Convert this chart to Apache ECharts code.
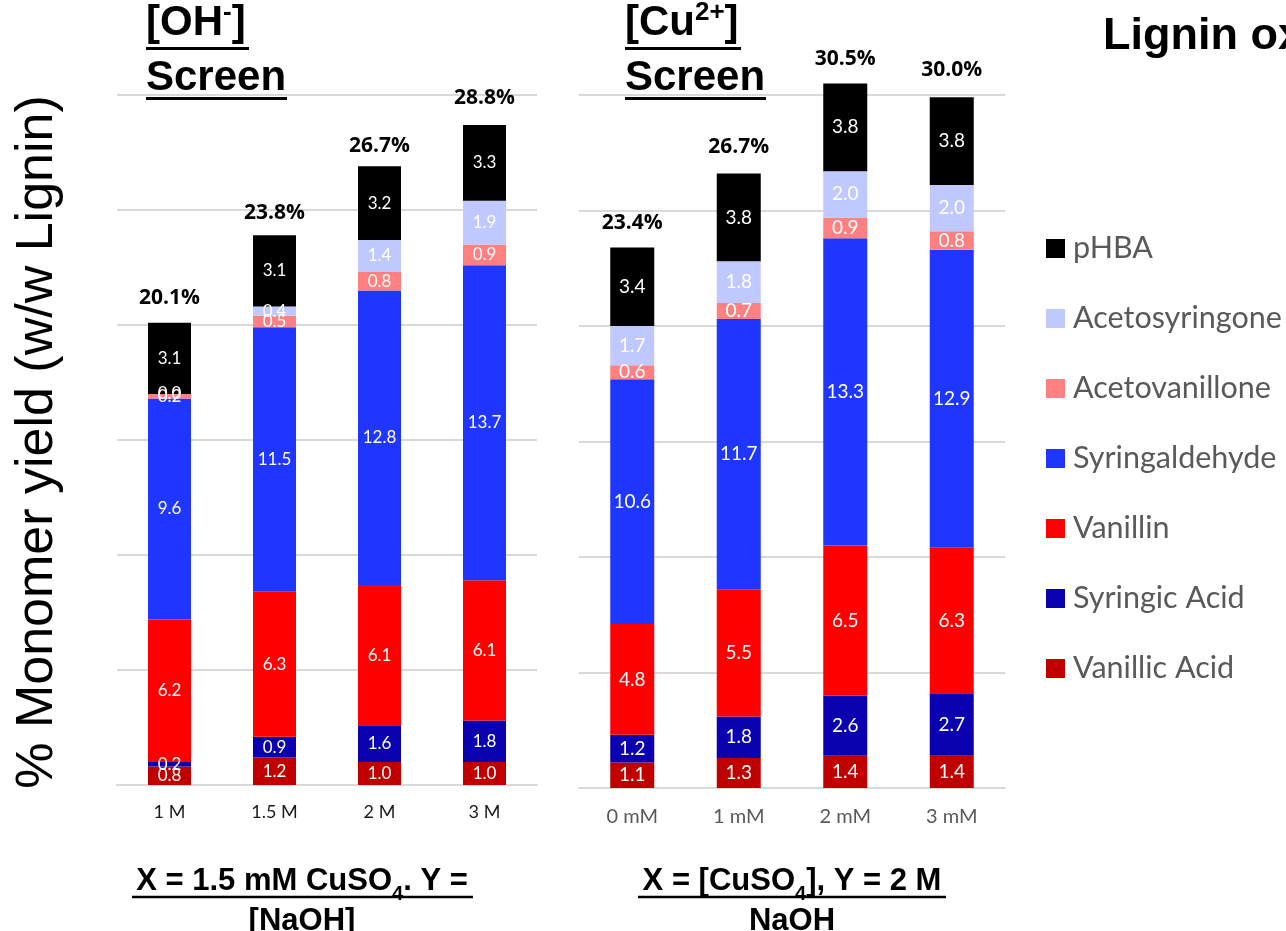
<!DOCTYPE html>
<html>
<head>
<meta charset="utf-8">
<title>Lignin oxidation monomer yields</title>
<script src="https://cdn.jsdelivr.net/npm/echarts@6/dist/echarts.min.js"></script>
<style>
  html, body { margin: 0; padding: 0; background: #ffffff; }
  #chart { width: 1286px; height: 931px; }
</style>
</head>
<body>
<div id="chart"></div>
<script>
// Categories for the two screens
const ohCategories = ['1 M', '1.5 M', '2 M', '3 M'];
const cuCategories = ['0 mM', '1 mM', '2 mM', '3 mM'];

// Legend order (top to bottom)
const compoundNames = ['pHBA', 'Acetosyringone', 'Acetovanillone', 'Syringaldehyde', 'Vanillin', 'Syringic Acid', 'Vanillic Acid'];

// [OH-] screen, % monomer yield (w/w lignin)
const ohVanillicAcid   = [0.8, 1.2, 1.0, 1.0];
const ohSyringicAcid   = [0.2, 0.9, 1.6, 1.8];
const ohVanillin       = [6.2, 6.3, 6.1, 6.1];
const ohSyringaldehyde = [9.6, 11.5, 12.8, 13.7];
const ohAcetovanillone = [0.2, 0.5, 0.8, 0.9];
const ohAcetosyringone = [0.0, 0.4, 1.4, 1.9];
const ohPHBA           = [3.1, 3.1, 3.2, 3.3];
const ohTotals         = [20.1, 23.8, 26.7, 28.8];

// [Cu2+] screen, % monomer yield (w/w lignin)
const cuVanillicAcid   = [1.1, 1.3, 1.4, 1.4];
const cuSyringicAcid   = [1.2, 1.8, 2.6, 2.7];
const cuVanillin       = [4.8, 5.5, 6.5, 6.3];
const cuSyringaldehyde = [10.6, 11.7, 13.3, 12.9];
const cuAcetovanillone = [0.6, 0.7, 0.9, 0.8];
const cuAcetosyringone = [1.7, 1.8, 2.0, 2.0];
const cuPHBA           = [3.4, 3.8, 3.8, 3.8];
const cuTotals         = [23.4, 26.7, 30.5, 30.0];

const colors = {
  'Vanillic Acid': '#c00000',
  'Syringic Acid': '#0a00b0',
  'Vanillin': '#ff0000',
  'Syringaldehyde': '#1f36ff',
  'Acetovanillone': '#ff8080',
  'Acetosyringone': '#c0c9ff',
  'pHBA': '#000000'
};

// stacking order, bottom to top
const ohStack = [
  ['Vanillic Acid', ohVanillicAcid], ['Syringic Acid', ohSyringicAcid], ['Vanillin', ohVanillin],
  ['Syringaldehyde', ohSyringaldehyde], ['Acetovanillone', ohAcetovanillone],
  ['Acetosyringone', ohAcetosyringone], ['pHBA', ohPHBA]
];
const cuStack = [
  ['Vanillic Acid', cuVanillicAcid], ['Syringic Acid', cuSyringicAcid], ['Vanillin', cuVanillin],
  ['Syringaldehyde', cuSyringaldehyde], ['Acetovanillone', cuAcetovanillone],
  ['Acetosyringone', cuAcetosyringone], ['pHBA', cuPHBA]
];

const LABEL_FONT = 'Lato';
const TITLE_FONT = 'Liberation Sans';

function stackSeries(stack, axisIndex, barWidth, labelSize) {
  return stack.map(([name, values]) => ({
    name: name,
    type: 'bar',
    xAxisIndex: axisIndex,
    yAxisIndex: axisIndex,
    stack: 'yield' + axisIndex,
    barWidth: barWidth,
    barGap: '-100%',
    clip: false,
    data: values,
    itemStyle: { color: colors[name] },
    label: {
      show: true,
      position: 'inside',
      color: '#ffffff',
      fontFamily: LABEL_FONT,
      fontSize: labelSize,
      formatter: p => p.value.toFixed(1)
    },
    emphasis: { disabled: true }
  }));
}

// transparent bar of the stated total, carrying the total label on top
function totalSeries(totals, axisIndex, barWidth) {
  return {
    name: 'Total',
    type: 'bar',
    xAxisIndex: axisIndex,
    yAxisIndex: axisIndex,
    barWidth: barWidth,
    barGap: '-100%',
    clip: false,
    silent: true,
    z: 5,
    data: totals,
    itemStyle: { color: 'rgba(0,0,0,0)' },
    label: {
      show: true,
      position: 'top',
      distance: 14,
      color: '#000000',
      fontFamily: 'Open Sans',
      fontWeight: 'bold',
      fontSize: 21,
      formatter: p => p.value.toFixed(1) + '%'
    }
  };
}

const gridLineStyle = { color: '#d9d9d9', width: 2 };

const headMain = { fontSize: 42, fontWeight: 'bold', fontFamily: TITLE_FONT, fill: '#000', lineHeight: 46 };
const headSup = { fontSize: 26, fontWeight: 'bold', fontFamily: TITLE_FONT, fill: '#000', verticalAlign: 'top', lineHeight: 46 };
const condMain = { fontSize: 31, fontWeight: 'bold', fontFamily: TITLE_FONT, fill: '#000', lineHeight: 34 };
const condSub = { fontSize: 20, fontWeight: 'bold', fontFamily: TITLE_FONT, fill: '#000', verticalAlign: 'bottom', lineHeight: 34, padding: [0, 0, -6, 0] };

const option = {
  animation: false,
  backgroundColor: '#ffffff',
  grid: [
    { left: 117, top: 95, width: 420, height: 690 },
    { left: 579, top: 95, width: 426, height: 693 }
  ],
  xAxis: [
    {
      gridIndex: 0, type: 'category', data: ohCategories,
      axisLine: { lineStyle: gridLineStyle }, axisTick: { show: false },
      axisLabel: { color: '#1a1a1a', fontFamily: LABEL_FONT, fontSize: 18, margin: 18 }
    },
    {
      gridIndex: 1, type: 'category', data: cuCategories,
      axisLine: { lineStyle: gridLineStyle }, axisTick: { show: false },
      axisLabel: { color: '#595959', fontFamily: LABEL_FONT, fontSize: 20, margin: 19 }
    }
  ],
  yAxis: [
    {
      gridIndex: 0, type: 'value', min: 0, max: 30, interval: 5,
      axisLabel: { show: false }, axisLine: { show: false }, axisTick: { show: false },
      splitLine: { lineStyle: gridLineStyle }
    },
    {
      gridIndex: 1, type: 'value', min: 0, max: 30, interval: 5,
      axisLabel: { show: false }, axisLine: { show: false }, axisTick: { show: false },
      splitLine: { lineStyle: gridLineStyle }
    }
  ],
  legend: {
    data: compoundNames,
    orient: 'vertical',
    left: 1046,
    top: 233,
    padding: 0,
    icon: 'rect',
    itemWidth: 19,
    itemHeight: 19,
    itemGap: 39,
    textStyle: { color: '#595959', fontFamily: LABEL_FONT, fontSize: 30.5, lineHeight: 30, padding: [0, 0, 0, 3] }
  },
  series: [
    ...stackSeries(ohStack, 0, 43, 17),
    totalSeries(ohTotals, 0, 43),
    ...stackSeries(cuStack, 1, 44, 19),
    totalSeries(cuTotals, 1, 44)
  ],
  graphic: [
    // panel headings
    {
      type: 'text', x: 146, y: 23,
      style: { text: '{m|[OH}{s|-}{m|]}', align: 'left', verticalAlign: 'middle', rich: { m: headMain, s: headSup } }
    },
    { type: 'line', shape: { x1: 146, y1: 48.5, x2: 249, y2: 48.5 }, style: { stroke: '#000', lineWidth: 3 } },
    {
      type: 'text', x: 146, y: 78,
      style: { text: 'Screen', align: 'left', verticalAlign: 'middle', fontSize: 42, fontWeight: 'bold', fontFamily: TITLE_FONT, fill: '#000' }
    },
    { type: 'line', shape: { x1: 146, y1: 98.5, x2: 287, y2: 98.5 }, style: { stroke: '#000', lineWidth: 3 } },
    {
      type: 'text', x: 625, y: 23,
      style: { text: '{m|[Cu}{s|2+}{m|]}', align: 'left', verticalAlign: 'middle', rich: { m: headMain, s: headSup } }
    },
    { type: 'line', shape: { x1: 625, y1: 48.5, x2: 741, y2: 48.5 }, style: { stroke: '#000', lineWidth: 3 } },
    {
      type: 'text', x: 625, y: 78,
      style: { text: 'Screen', align: 'left', verticalAlign: 'middle', fontSize: 42, fontWeight: 'bold', fontFamily: TITLE_FONT, fill: '#000' }
    },
    { type: 'line', shape: { x1: 625, y1: 98.5, x2: 766, y2: 98.5 }, style: { stroke: '#000', lineWidth: 3 } },
    // figure heading
    {
      type: 'text', x: 1103, y: 37,
      style: { text: 'Lignin oxidation', align: 'left', verticalAlign: 'middle', fontSize: 45, fontWeight: 'bold', fontFamily: TITLE_FONT, fill: '#000' }
    },
    // y axis title
    {
      type: 'text', x: 38, y: 442, rotation: Math.PI / 2,
      style: { text: '% Monomer yield (w/w Lignin)', align: 'center', verticalAlign: 'middle', fontSize: 52, fontFamily: TITLE_FONT, fill: '#000' }
    },
    // conditions under each panel
    {
      type: 'text', x: 302, y: 881,
      style: { text: '{b|X = 1.5 mM CuSO}{sub|4}{b|. Y =}', align: 'center', verticalAlign: 'middle', rich: { b: condMain, sub: condSub } }
    },
    { type: 'line', shape: { x1: 132, y1: 897, x2: 473, y2: 897 }, style: { stroke: '#000', lineWidth: 2.5 } },
    {
      type: 'text', x: 302, y: 921,
      style: { text: '[NaOH]', align: 'center', verticalAlign: 'middle', fontSize: 31, fontWeight: 'bold', fontFamily: TITLE_FONT, fill: '#000' }
    },
    {
      type: 'text', x: 792, y: 881,
      style: { text: '{b|X = [CuSO}{sub|4}{b|], Y = 2 M}', align: 'center', verticalAlign: 'middle', rich: { b: condMain, sub: condSub } }
    },
    { type: 'line', shape: { x1: 638, y1: 897, x2: 946, y2: 897 }, style: { stroke: '#000', lineWidth: 2.5 } },
    {
      type: 'text', x: 792, y: 921,
      style: { text: 'NaOH', align: 'center', verticalAlign: 'middle', fontSize: 31, fontWeight: 'bold', fontFamily: TITLE_FONT, fill: '#000' }
    }
  ]
};

const chart = echarts.init(document.getElementById('chart'), null, { renderer: 'canvas' });
chart.setOption(option);
</script>
</body>
</html>
